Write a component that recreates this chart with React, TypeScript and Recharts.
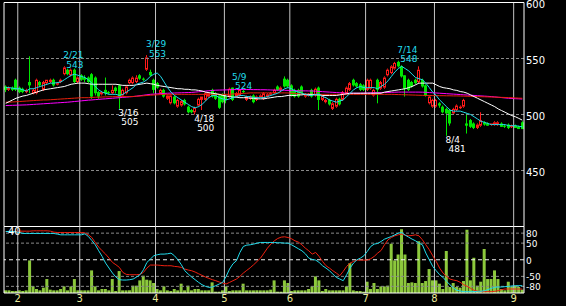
import React from "react";
import {
  ComposedChart,
  Bar,
  Line,
  XAxis,
  YAxis,
  ReferenceLine,
  ReferenceDot,
} from "recharts";

// ---------- data ----------
const dates = [
  "1/26","1/27","1/28","1/31",
  "2/1","2/2","2/3","2/4","2/7","2/8","2/9","2/10","2/14","2/15","2/16","2/17","2/18","2/21","2/22","2/23","2/24","2/25",
  "3/1","3/2","3/3","3/4","3/7","3/8","3/9","3/10","3/11","3/14","3/15","3/16","3/17","3/18","3/22","3/23","3/24","3/25","3/28","3/29","3/30","3/31",
  "4/1","4/4","4/5","4/6","4/7","4/8","4/11","4/12","4/13","4/14","4/15","4/18","4/19","4/20","4/21","4/22","4/25","4/26","4/27","4/28",
  "5/2","5/6","5/9","5/10","5/11","5/12","5/13","5/16","5/17","5/18","5/19","5/20","5/23","5/24","5/25","5/26","5/27","5/30","5/31",
  "6/1","6/2","6/3","6/6","6/7","6/8","6/9","6/10","6/13","6/14","6/15","6/16","6/17","6/20","6/21","6/22","6/23","6/24","6/27","6/28","6/29","6/30",
  "7/1","7/4","7/5","7/6","7/7","7/8","7/11","7/12","7/13","7/14","7/15","7/19","7/20","7/21","7/22","7/25","7/26","7/27","7/28","7/29",
  "8/1","8/2","8/3","8/4","8/5","8/8","8/9","8/10","8/11","8/12","8/15","8/16","8/17","8/18","8/19","8/22","8/23","8/24","8/25","8/26","8/29","8/30","8/31",
  "9/1","9/2","9/5",
];

const opens = [
  525,522,524,531,524,523,520,529,519,519,529,522,528,529,531,527,529,536,540,535,
  540,529,535,533,533,536,533,520,518,522,520,519,524,526,517,519,528,528,529,535,
  532,540,538,531,528,519,522,514,510,516,507,508,513,507,504,502,508,513,513,516,
  522,519,517,518,516,516,524,516,517,521,513,514,517,513,516,514,516,518,519,525,
  522,532,531,526,522,522,525,516,517,522,517,524,513,511,513,505,507,514,513,519,
  522,531,528,527,526,522,523,517,531,523,524,535,537,541,547,543,535,531,529,531,
  529,531,526,510,507,507,510,507,505,504,501,504,506,507,492,495,492,488,490,493,
  492,491,491,491,492,490,491,489,490,489,493,
];
const highs = [
  526,525,525,532,525,524,523,552,523,532,530,530,531,532,532,529,532,543,541,541,
  541,534,536,535,534,537,534,521,521,533,521,526,525,527,523,526,532,534,535,536,
  533,553,540,532,529,523,523,518,518,517,514,513,514,508,505,507,515,516,520,520,
  523,520,518,519,518,524,524,520,523,522,517,517,518,517,518,520,519,520,523,526,
  525,534,532,527,523,523,526,519,519,523,524,525,518,514,514,511,515,515,521,525,
  529,532,529,528,527,532,532,523,532,530,534,541,544,547,548,544,535,532,530,532,
  543,532,527,517,514,514,511,508,506,505,506,509,508,514,501,496,493,492,502,494,
  493,492,494,494,493,491,492,491,491,490,494,
];
const lows = [
  520,521,521,521,519,519,519,519,518,518,525,521,527,528,525,526,528,535,535,534,
  528,528,530,529,528,514,517,514,517,517,518,518,519,505,516,518,527,527,528,531,
  530,539,534,519,523,518,515,513,509,509,506,507,508,501,501,500,507,504,512,515,
  515,513,505,510,510,515,512,515,516,519,512,513,510,512,515,513,515,517,518,521,
  521,524,524,516,515,515,518,515,516,515,516,504,512,510,508,504,506,508,512,518,
  521,525,524,521,521,521,522,516,510,522,523,534,536,540,542,533,516,521,524,527,
  528,524,516,509,506,506,506,501,481,490,500,503,505,506,483,488,487,487,489,490,
  490,490,490,490,489,488,487,488,488,487,487,
];
const closes = [
  522,524,522,522,520,520,522,526,522,531,526,529,531,531,526,528,531,542,536,540,
  529,533,531,531,529,516,519,516,520,519,519,522,521,515,522,525,531,533,533,532,
  531,551,535,522,524,522,516,517,517,510,513,512,509,502,502,506,514,516,519,519,
  516,514,506,511,513,523,513,519,522,520,516,516,511,516,517,519,518,519,522,522,
  524,525,525,517,516,516,519,518,518,516,523,513,517,513,509,510,514,509,520,524,
  528,526,525,522,522,531,531,522,522,529,533,540,543,546,543,534,523,522,525,528,
  540,525,517,516,513,513,508,502,501,492,505,508,507,513,490,489,488,491,495,491,
  490,492,493,493,489,489,488,490,488,487,487,
];

const ma5 = [
  524,524,523.5,523,523,522,521,523,523,524,525,526,527,528,528,528.5,529,531,533,535,
  536,535,534,533,531,528,525,522,520,519,518,518,518,517,518,520,522,524,527,528,
  529,531,534,536,537,534,529,524,520,517,515,513,511,509,507,506,507,509,512,515,
  517,517,515,514,513,514,515,516,517,517,516,516,515,515,515,515,516,517,518,519,
  521,523,524,523,521,520,519,518,517,517,518,518,516,515,513,512,511,512,513,516,
  519,522,524,525,524,524,524,524,523,525,527,530,534,538,541,543,541,539,536,533,
  532,531,528,524,520,517,513,510,507,504,503,503,503,502,501,500,498,496,494,493,
  492,491,491,491,491,491,490,490,490,489.5,489,
];
const ma25 = [
  510,511.5,513,514.5,515.5,516.5,517,518,519,520,521,522,522.5,523,523.5,524,524.5,525,526,527,
  527.5,528,528,528,527.5,527,527,527,527,527,527,527,527,526.5,526,526,526,526,526.5,527,
  527.5,528,527.5,527,526,525.5,525,524.5,524,523.5,523,523,522.5,522.5,522,522,521.5,521,520,519.5,
  519,518.5,518,517,516.5,516,515.5,515.5,515,515,515,514.5,514.5,514,514,514,514.5,515,515.5,516,
  516,516.5,517,517,517,517.5,517.5,518,518,518,517.5,517.5,517,517,517,517,517,517.5,518,518.5,
  519,519,519,519,519,519,519,519,519,519,520,520.5,521,521.5,522,522.5,523,524,525,526.5,
  528,528,528,528,528,526.5,525,524,523.5,523,522,521.5,520.5,520,519,517.5,516,514.5,513,511.5,
  510,508.5,507,505,503.5,502,500.5,499,498,496.5,495,
];
const maLong = [
  511,511,511.2,511.4,511.6,511.8,512,512.2,512.4,512.6,512.8,513,513,513.2,513.4,513.6,513.8,514,514.2,514.4,
  514.6,514.8,515,515,515,515.2,515.4,515.5,515.6,515.7,515.8,515.9,516,516,516,516,516,516.1,516.3,516.5,
  516.7,517,517.2,517.4,517.6,517.8,518,518,518,518,518,518,518,518,518,518,518,518,518,518,
  518,518,518,518,518,518,518.3,518.5,518.7,518.9,519,519.3,519.3,519.3,519.3,519.3,519.3,519.3,519.3,519.3,
  519.3,519.3,519.2,519,518.8,518.6,518.4,518.2,518,518,518,518,518,518,518,518,518,518,518,518,
  518,518,518,518,518,518,518,518,518,518,518,518,518,517.9,517.8,517.7,517.6,517.5,517.4,517.3,
  517.2,517.1,517,517,516.9,516.9,516.8,516.8,516.7,516.7,516.6,516.6,516.5,516.4,516.3,516.2,516.1,516,515.9,515.8,
  515.7,515.6,515.5,515.4,515.3,515.2,515.1,515,514.8,514.6,514.5,
];
const maLonger = [
  508,508.1,508.2,508.3,508.4,508.5,508.6,508.8,509,509.2,509.4,509.6,509.8,510,510.2,510.4,510.6,510.8,511,511.3,
  511.6,511.9,512.2,512.5,512.8,513,513.3,513.5,513.8,514,514.3,514.5,514.8,515,515.3,515.5,515.8,516,516.4,516.8,
  517.2,517.6,518,518.2,518.4,518.6,518.8,519,519.1,519.2,519.3,519.4,519.5,519.6,519.7,520,520.3,520.6,520.9,521.2,
  521.5,521.7,521.8,521.9,522,522.1,522.2,522.3,522.3,522.3,522.3,522.3,522.2,522.2,522.1,522.1,522,521.9,521.8,521.7,
  521.7,521.6,521.5,521.4,521.3,521.2,521.1,521.1,521,521,520.8,520.6,520.4,520.2,520,519.8,519.6,519.4,519.2,519,
  519,519,519,519,519.1,519.2,519.3,519.4,519.5,519.5,519.6,519.7,519.8,519.9,520,520,520,520,520,520,
  520,519.9,519.8,519.6,519.4,519.2,519,518.8,518.6,518.4,518.2,518,517.8,517.6,517.4,517.2,517,516.8,516.6,516.4,
  516.2,516,515.7,515.4,515.1,514.8,514.5,514.3,514.1,514,513.8,
];

const volume = [
  4,4,3,3,4,3,4,49,10,6,4,8,21,5,4,4,6,10,4,10,
  21,4,4,4,4,34,10,4,6,6,4,21,3,33,4,4,4,11,11,19,
  26,20,19,15,6,4,10,4,3,6,4,14,4,11,4,6,6,4,4,4,
  16,2,2,4,10,3,4,4,4,14,4,4,4,4,4,4,4,5,19,2,
  2,19,15,3,4,4,4,4,6,10,25,19,3,6,4,4,4,4,4,10,
  45,4,3,3,2,17,6,15,6,10,10,11,74,49,58,96,58,15,16,15,
  78,15,18,36,19,19,14,6,63,9,15,9,8,18,95,19,53,11,17,66,
  21,21,34,21,6,4,17,9,11,9,5,
];

const oscFast = [
  85,85,85,84,82,79,79,79,79,79,79,79,79,79,79,77,75,75,75,75,
  75,75,75,78,70,58,45,27,10,-10,-25,-40,-52,-60,-61,-61,-60,-58,-52,-45,
  -30,-8,2,12,15,17,17,18,20,12,0,-15,-33,-43,-52,-60,-68,-75,-80,-83,
  -82,-78,-73,-68,-50,-28,-12,-3,22,40,44,45,47,50,52,52,52,52,52,51,
  51,50,50,45,39,33,27,18,5,1,-1,-8,-18,-25,-33,-43,-53,-58,-63,-45,
  -25,-10,0,5,12,25,40,47,49,55,62,66,70,75,80,82,74,68,62,57,
  50,45,20,0,-20,-33,-45,-53,-65,-75,-85,-92,-94,-96,-96,-96,-96,-95,-95,-93,
  -90,-86,-83,-82,-82,-81,-80,-79,-78,-78,-78,
];
const oscSlow = [
  85,85,85,85,86,86,86,86,87,87,87,87,87,86,83,82,82,82,82,82,
  82,82,82,81,75,67,52,38,27,17,5,-8,-15,-23,-38,-44,-45,-45,-45,-44,
  -38,-25,-16,-16,-16,-17,-18,-18,-18,-20,-21,-23,-28,-31,-33,-37,-42,-47,-52,-56,
  -60,-63,-67,-70,-73,-68,-63,-58,-50,-40,-32,-24,-15,-5,5,20,35,47,57,64,
  68,69,67,63,57,53,45,35,27,17,22,10,-5,-18,-25,-33,-40,-48,-35,-20,
  -10,-5,-1,-1,-1,-1,3,10,20,28,45,60,67,72,75,77,74,72,73,75,
  72,60,45,30,12,-5,-25,-40,-50,-58,-61,-63,-68,-75,-80,-86,-92,-94,-96,-96,
  -96,-96,-95,-93,-90,-88,-88,-88,-88,-88,-88,
];

const monthTicks = ["2/1", "3/1", "4/1", "5/2", "6/1", "7/1", "8/1", "9/1"];
const monthLabels = ["2", "3", "4", "5", "6", "7", "8", "9"];
const priceTicks = [450, 500, 550, 600];
const priceGrid = [450, 500, 550];
const oscTicks = [80, 50, 0, -50, -80];
const oscGrid = [80, 50, -50, -80];

const highNotes = [
  { date: "2/21", value: 543 },
  { date: "3/29", value: 553 },
  { date: "5/9", value: 524 },
  { date: "7/14", value: 548 },
];
const lowNotes = [
  { date: "3/16", value: 505 },
  { date: "4/18", value: 500 },
  { date: "8/4", value: 481 },
];

const rows = dates.map((date, i) => ({
  date,
  open: opens[i],
  high: highs[i],
  low: lows[i],
  close: closes[i],
  ma5: ma5[i],
  ma25: ma25[i],
  maLong: maLong[i],
  maLonger: maLonger[i],
  volume: volume[i],
  oscFast: oscFast[i],
  oscSlow: oscSlow[i],
}));

// ---------- styling ----------
const W = 566;
const H = 306;
const PLOT_L = 4;
const AXIS_W = 42;
const PLOT_W = W - PLOT_L - AXIS_W;
const BAND = PLOT_W / dates.length;
const FONT = "DejaVu Sans";
const UP = "#ff1a1a";
const DOWN = "#00e600";
const CYAN = "#22dcec";
const GRID = "#8a8a8a";
const VGRID = "#c4c4c4";

function Candle(props: any) {
  const { x, y, width, height, payload } = props;
  if (!payload || x == null) return null;
  const top0 = Math.min(y, y + height);
  const h = Math.abs(height);
  const { open, close, high, low } = payload;
  const span = high - low;
  const ppu = span > 0 ? h / span : 0;
  const py = (v: number) => top0 + (high - v) * ppu;
  const cx = Math.floor(x + width / 2) + 0.5;
  const up = close > open;
  const bTop = py(Math.max(open, close));
  const bBot = py(Math.min(open, close));
  const bodyH = Math.max(1, bBot - bTop);
  if (up) {
    return (
      <g>
        <line x1={cx} x2={cx} y1={top0} y2={bTop} stroke={UP} />
        <line x1={cx} x2={cx} y1={bTop + bodyH} y2={top0 + h} stroke={UP} />
        <rect x={cx - 1} y={bTop + 0.5} width={2} height={Math.max(0.5, bodyH - 1)} fill="#000" stroke={UP} />
      </g>
    );
  }
  return (
    <g>
      <line x1={cx} x2={cx} y1={top0} y2={top0 + h} stroke={DOWN} />
      <rect x={cx - 1.5} y={bTop} width={3} height={bodyH} fill={DOWN} />
    </g>
  );
}

const PriceTick = (p: any) => (
  <text x={p.x} y={p.y + 5.3} fill="#fff" fontSize={10} fontFamily={FONT} textAnchor="start">
    {p.payload.value}
  </text>
);
const OscTick = (p: any) => (
  <text x={p.x} y={p.y + 3.8} fill="#fff" fontSize={9} fontFamily={FONT} textAnchor="start">
    {p.payload.value}
  </text>
);
const MonthTick = (p: any) => {
  const idx = monthTicks.indexOf(p.payload.value);
  return (
    <text x={p.x - BAND / 2} y={p.y + 6.5} fill="#ecec9c" fontSize={10} fontFamily={FONT} textAnchor="middle">
      {idx >= 0 ? monthLabels[idx] : ""}
    </text>
  );
};

const noteShape = (date: string, value: number, isHigh: boolean) => (p: any) => {
  const cx = p.cx;
  const cy = p.cy;
  const color = isHigh ? CYAN : "#ffffff";
  const y1 = isHigh ? cy - 8 : cy + 7;
  const y2 = isHigh ? cy + 1.5 : cy + 16;
  return (
    <g>
      <text x={cx - 1} y={y1} fill={color} fontSize={9} fontFamily={FONT}>
        {date}
      </text>
      <text x={cx + 2} y={y2} fill={color} fontSize={9} fontFamily={FONT}>
        {value}
      </text>
    </g>
  );
};

export default function App() {
  const first = dates[0];
  const last = dates[dates.length - 1];
  return (
    <div style={{ position: "absolute", left: 0, top: 0, width: W, height: H, background: "#000", overflow: "hidden" }}>
      {/* price panel */}
      <div style={{ position: "absolute", left: 0, top: 0 }}>
        <ComposedChart
          width={W}
          height={H}
          data={rows}
          margin={{ top: 2.5, right: 0, bottom: 79.5, left: PLOT_L }}
          barCategoryGap={0}
        >
          <XAxis dataKey="date" hide />
          <YAxis
            orientation="right"
            domain={[400, 600]}
            ticks={priceTicks}
            interval={0}
            width={AXIS_W}
            axisLine={false}
            tickLine={false}
            tickSize={0}
            tickMargin={2}
            tick={PriceTick}
            allowDataOverflow
          />
          {priceGrid.map((v) => (
            <ReferenceLine key={"pg" + v} y={v} stroke={GRID} strokeDasharray="3 2" />
          ))}
          {monthTicks.map((d) => (
            <ReferenceLine key={"pv" + d} x={d} position="start" stroke={VGRID} />
          ))}
          <ReferenceLine y={600} stroke="#fff" />
          <ReferenceLine y={400} stroke="#fff" />
          <ReferenceLine x={first} position="start" stroke="#fff" />
          <ReferenceLine x={last} position="end" stroke="#fff" />
          <Line dataKey="maLonger" stroke="#ff00ff" dot={false} strokeWidth={1} isAnimationActive={false} />
          <Line dataKey="maLong" stroke="#e8200c" dot={false} strokeWidth={1} isAnimationActive={false} />
          <Line dataKey="ma25" stroke="#ffffff" dot={false} strokeWidth={1} isAnimationActive={false} />
          <Bar
            dataKey={(d: any) => [d.low, d.high]}
            shape={(p: any) => <Candle {...p} />}
            isAnimationActive={false}
          />
          <Line dataKey="ma5" stroke={CYAN} dot={false} strokeWidth={1} isAnimationActive={false} />
          {highNotes.map((n) => (
            <ReferenceDot key={"h" + n.date} x={n.date} y={n.value} r={0} shape={noteShape(n.date, n.value, true)} />
          ))}
          {lowNotes.map((n) => (
            <ReferenceDot key={"l" + n.date} x={n.date} y={n.value} r={0} shape={noteShape(n.date, n.value, false)} />
          ))}
        </ComposedChart>
      </div>
      {/* oscillator / volume panel */}
      <div style={{ position: "absolute", left: 0, top: 0 }}>
        <ComposedChart
          width={W}
          height={H}
          data={rows}
          margin={{ top: 226.5, right: 0, bottom: 0, left: PLOT_L }}
          barCategoryGap={0}
        >
          <XAxis
            dataKey="date"
            ticks={monthTicks}
            interval={0}
            tick={MonthTick}
            tickLine={false}
            axisLine={false}
            height={13}
            tickSize={0}
            tickMargin={2}
          />
          <YAxis
            yAxisId="osc"
            orientation="right"
            domain={[-100, 100]}
            ticks={oscTicks}
            interval={0}
            width={AXIS_W}
            axisLine={false}
            tickLine={false}
            tickSize={0}
            tickMargin={2}
            tick={OscTick}
            allowDataOverflow
          />
          <YAxis yAxisId="vol" hide domain={[0, 100]} allowDataOverflow />
          {oscGrid.map((v) => (
            <ReferenceLine key={"og" + v} yAxisId="osc" y={v} stroke={GRID} strokeDasharray="3 2" />
          ))}
          <ReferenceLine yAxisId="osc" y={0} stroke="#f0f0f0" strokeDasharray="4 3" />
          {monthTicks.map((d) => (
            <ReferenceLine key={"ov" + d} yAxisId="osc" x={d} position="start" stroke={VGRID} />
          ))}
          <ReferenceLine yAxisId="osc" y={-100} stroke="#fff" />
          <ReferenceLine yAxisId="osc" x={first} position="start" stroke="#fff" />
          <ReferenceLine yAxisId="osc" x={last} position="end" stroke="#fff" />
          <Bar yAxisId="vol" dataKey="volume" fill="#8cc83c" barSize={3} isAnimationActive={false} />
          <Line yAxisId="osc" dataKey="oscSlow" stroke="#ee2010" dot={false} strokeWidth={1} isAnimationActive={false} />
          <Line yAxisId="osc" dataKey="oscFast" stroke={CYAN} dot={false} strokeWidth={1} isAnimationActive={false} />
        </ComposedChart>
      </div>
      <div
        style={{
          position: "absolute",
          left: 8,
          top: 226,
          color: "#fff",
          fontSize: 10,
          fontFamily: FONT,
          lineHeight: "12px",
        }}
      >
        40
      </div>
    </div>
  );
}
